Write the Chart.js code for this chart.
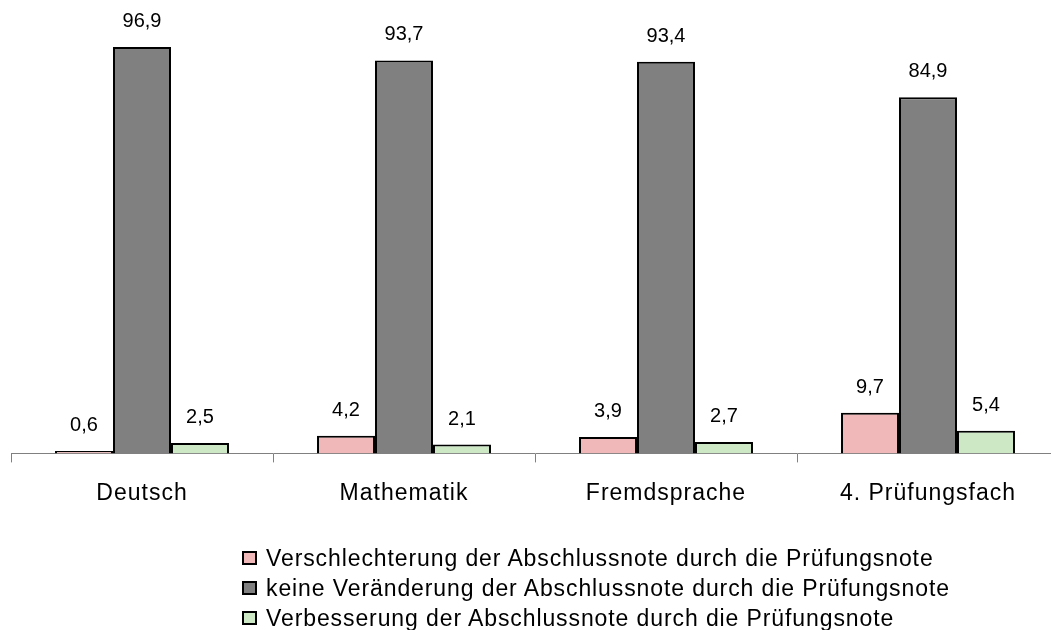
<!DOCTYPE html>
<html>
<head>
<meta charset="utf-8">
<script src="https://cdn.jsdelivr.net/npm/chart.js@4.4.1/dist/chart.umd.min.js"></script>
<style>
  html, body { margin: 0; padding: 0; background: #fff; overflow: hidden; width: 1051px; height: 630px; }
  #wrap { position: absolute; left: 0; top: 0; width: 1060px; height: 630px; }
  #legend { position: absolute; left: 242px; top: 543px; font-family: "Liberation Sans", Arial, sans-serif; font-size: 23px; letter-spacing: 0.9px; color: #000; }
  #legend .row { display: flex; align-items: center; height: 30px; line-height: 30px; white-space: nowrap; }
  #legend .box { width: 11px; height: 10px; border: 2px solid #000; margin-right: 9px; }
</style>
</head>
<body>
<div id="wrap"><canvas id="myChart"></canvas></div>
<div id="legend"></div>
<script>
const categories = ["Deutsch", "Mathematik", "Fremdsprache", "4. Prüfungsfach"];
const seriesNames = [
  "Verschlechterung der Abschlussnote durch die Prüfungsnote",
  "keine Veränderung der Abschlussnote durch die Prüfungsnote",
  "Verbesserung der Abschlussnote durch die Prüfungsnote",
];
const worse = [0.6, 4.2, 3.9, 9.7];
const same = [96.9, 93.7, 93.4, 84.9];
const better = [2.5, 2.1, 2.7, 5.4];
const colors = ["#f0b8b8", "#808080", "#cce8c4"];

const font = "'Liberation Sans', Arial, sans-serif";

// slightly wider tick text, like the original
const spacing = {
  id: "spacing",
  beforeDraw(chart) {
    chart.ctx.letterSpacing = "1px";
  },
};

// value labels above the bars, german decimal comma
const valueLabels = {
  id: "valueLabels",
  afterDatasetsDraw(chart) {
    const ctx = chart.ctx;
    ctx.save();
    ctx.letterSpacing = "0px";
    ctx.font = "20px " + font;
    ctx.fillStyle = "#000";
    ctx.textAlign = "center";
    ctx.textBaseline = "alphabetic";
    chart.data.datasets.forEach((ds, i) => {
      chart.getDatasetMeta(i).data.forEach((bar, j) => {
        const txt = ds.data[j].toFixed(1).replace(".", ",");
        ctx.fillText(txt, bar.x, bar.y - 20);
      });
    });
    ctx.restore();
  },
};

const allData = [worse, same, better];

let chart = new Chart("myChart", {
  type: "bar",
  data: {
    labels: categories,
    datasets: allData.map((d, i) => ({
      label: seriesNames[i],
      data: d,
      backgroundColor: colors[i],
      borderColor: "#000",
      borderWidth: 2,
      categoryPercentage: 0.664,
      barPercentage: 1,
    })),
  },
  options: {
    responsive: true,
    maintainAspectRatio: false,
    animation: false,
    layout: { padding: { left: 11, right: 1, top: 34, bottom: 106 } },
    plugins: {
      legend: { display: false },
      tooltip: { enabled: false },
    },
    scales: {
      x: {
        border: { color: "#808080", width: 1 },
        grid: {
          drawOnChartArea: false,
          drawTicks: true,
          tickLength: 9,
          color: "#808080",
        },
        ticks: {
          color: "#000",
          font: { family: font, size: 23 },
          padding: 17,
        },
      },
      y: {
        display: false,
        min: 0,
        max: 100,
      },
    },
  },
  plugins: [spacing, valueLabels],
});

// legend, one entry per line
const legend = document.getElementById("legend");
chart.data.datasets.forEach((ds) => {
  const row = document.createElement("div");
  row.className = "row";
  const box = document.createElement("span");
  box.className = "box";
  box.style.background = ds.backgroundColor;
  const txt = document.createElement("span");
  txt.textContent = ds.label;
  row.appendChild(box);
  row.appendChild(txt);
  legend.appendChild(row);
});
</script>
</body>
</html>
